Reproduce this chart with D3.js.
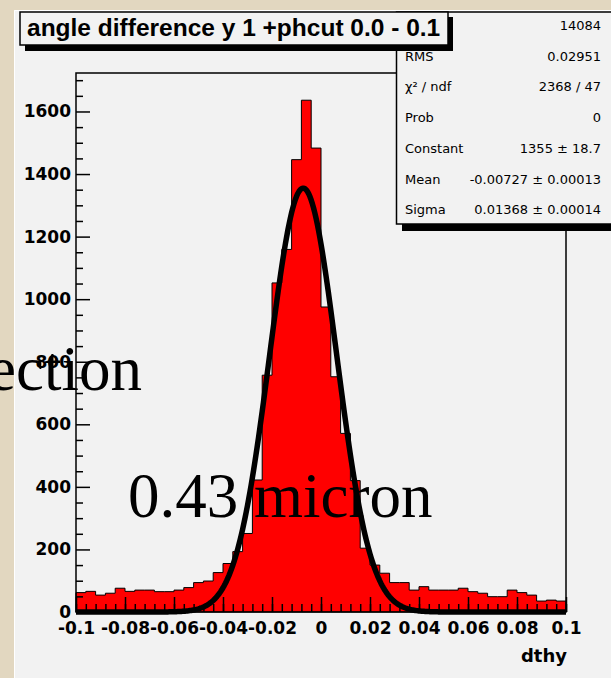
<!DOCTYPE html>
<html>
<head>
<meta charset="utf-8">
<script src="https://cdn.jsdelivr.net/npm/d3@7"></script>
<style>
body { margin: 0; background: #e2d7c0; }
svg { display: block; }
</style>
</head>
<body>
<svg id="chart"></svg>
<script>
// bin contents: 50 bins between -0.1 and 0.1
var counts = [62, 66, 54, 60, 76, 66, 70, 70, 65, 65, 70, 78, 94, 99, 126, 155, 193, 251, 422, 757,
              1052, 1159, 1446, 1636, 1483, 975, 752, 571, 420, 204, 150, 124, 94, 94, 70, 81, 70, 70, 70, 76,
              65, 60, 49, 49, 70, 62, 54, 35, 38, 35];
var xRange = [-0.1, 0.1];
var yMax = 1723;
var yTicks = [0, 200, 400, 600, 800, 1000, 1200, 1400, 1600];
var xTicks = [-0.1, -0.08, -0.06, -0.04, -0.02, 0, 0.02, 0.04, 0.06, 0.08, 0.1];
var xTickLabels = ["-0.1", "-0.08", "-0.06", "-0.04", "-0.02", "0", "0.02", "0.04", "0.06", "0.08", "0.1"];

// gaussian fit parameters (from the stats box)
var fitConstant = 1355, fitMean = -0.00727, fitSigma = 0.01368;

// first label sits under the title box in the picture, so it is left empty
var statNames = ["", "RMS", "\u03c7\u00b2 / ndf", "Prob", "Constant", "Mean", "Sigma"];
var statValues = ["14084", "0.02951", "2368 / 47", "0", "1355 \u00b1 18.7", "-0.00727 \u00b1 0.00013", "0.01368 \u00b1 0.00014"];

var titleText = "angle difference y 1 +phcut 0.0 - 0.1";
var xTitle = "dthy";

function renderChart() {
    var W = 611, H = 678;
    var svg = d3.select("#chart").attr("width", W).attr("height", H);
    var bg = "#f2f2f2";

    // page background + canvas
    svg.append("rect").attr("width", W).attr("height", H).attr("fill", "#e2d7c0");
    svg.append("rect").attr("x", 14).attr("y", 10).attr("width", W - 14).attr("height", H - 10)
       .attr("fill", bg);
    svg.append("path").attr("d", "M14.5," + H + "V10.5H" + W)
       .attr("stroke", "#ffffff").attr("fill", "none");

    var x = d3.scaleLinear().domain(xRange).range([76, 566]);
    var y = d3.scaleLinear().domain([0, yMax]).range([612, 73]);

    var nb = counts.length;
    var bw = (xRange[1] - xRange[0]) / nb;
    var steps = counts.map(function(c, i) { return {lo: xRange[0] + i * bw, v: c}; });
    steps.push({lo: xRange[1], v: counts[nb - 1]});

    var area = d3.area()
        .curve(d3.curveStepAfter)
        .x(function(d) { return x(d.lo); })
        .y0(y(0))
        .y1(function(d) { return y(d.v); });

    svg.append("path")
       .datum(steps)
       .attr("d", area)
       .attr("fill", "#ff0000")
       .attr("stroke", "#000")
       .attr("stroke-width", 1);

    // ticks (inside the frame)
    var yMinor = d3.range(0, 1701, 50).filter(function(v) { return v % 200 !== 0; });
    var xMinor = d3.range(0, 51).map(function(i) { return xRange[0] + i * bw; });

    var gyMinor = svg.append("g").attr("transform", "translate(76,0)")
        .call(d3.axisLeft(y).tickValues(yMinor).tickSize(-7).tickFormat(""));
    var gy = svg.append("g").attr("transform", "translate(76,0)")
        .call(d3.axisLeft(y).tickValues(yTicks).tickSize(-14).tickPadding(5).tickFormat(d3.format("d")));

    var gxMinor = svg.append("g").attr("transform", "translate(0,612)")
        .call(d3.axisBottom(x).tickValues(xMinor).tickSize(-8).tickFormat(""));
    var gx = svg.append("g").attr("transform", "translate(0,612)")
        .call(d3.axisBottom(x).tickValues(xTicks).tickSize(-15).tickPadding(10)
              .tickFormat(function(d, i) { return xTickLabels[i]; }));

    [gyMinor, gy, gxMinor, gx].forEach(function(g) {
        g.select(".domain").remove();
        g.selectAll("line").attr("stroke", "#000").attr("stroke-width", 1.5);
        g.selectAll("text")
         .attr("font-family", "DejaVu Sans")
         .attr("font-weight", "bold")
         .attr("font-size", 17)
         .attr("fill", "#000");
    });

    // fit function
    var fitPts = d3.range(0, 401).map(function(i) {
        var xv = xRange[0] + i * (xRange[1] - xRange[0]) / 400;
        var z = (xv - fitMean) / fitSigma;
        return [xv, fitConstant * Math.exp(-0.5 * z * z)];
    });
    svg.append("path")
       .datum(fitPts)
       .attr("d", d3.line().x(function(d) { return x(d[0]); }).y(function(d) { return y(d[1]); }))
       .attr("fill", "none")
       .attr("stroke", "#000")
       .attr("stroke-width", 5.5)
       .attr("stroke-linejoin", "round");

    // frame
    svg.append("rect")
       .attr("x", 76).attr("y", 73).attr("width", 490).attr("height", 539)
       .attr("fill", "none").attr("stroke", "#000").attr("stroke-width", 1.5);

    // x axis title
    svg.append("text")
       .attr("x", 567).attr("y", 662)
       .attr("text-anchor", "end")
       .attr("font-family", "DejaVu Sans").attr("font-weight", "bold").attr("font-size", 18)
       .text(xTitle);

    // stats box
    svg.append("rect").attr("x", 402).attr("y", 224).attr("width", 220).attr("height", 7).attr("fill", "#000");
    svg.append("rect").attr("x", 396.5).attr("y", 12).attr("width", 220).attr("height", 212)
       .attr("fill", bg).attr("stroke", "#000").attr("stroke-width", 1.5);
    statNames.forEach(function(s, i) {
        var yy = 30 + i * 30.7;
        if (s) {
            svg.append("text").attr("x", 405).attr("y", yy)
               .attr("font-family", "DejaVu Sans").attr("font-size", 13).text(s);
        }
        svg.append("text").attr("x", 601).attr("y", yy).attr("text-anchor", "end")
           .attr("font-family", "DejaVu Sans").attr("font-size", 13).text(statValues[i]);
    });

    // title box
    svg.append("rect").attr("x", 25).attr("y", 17).attr("width", 428).attr("height", 34).attr("fill", "#000");
    svg.append("rect").attr("x", 20).attr("y", 12).attr("width", 428).attr("height", 33)
       .attr("fill", bg).attr("stroke", "#000").attr("stroke-width", 1.5);
    svg.append("text").attr("x", 27).attr("y", 36)
       .attr("font-family", "Liberation Sans").attr("font-weight", "bold").attr("font-size", 24.5)
       .text(titleText);

    // overlaid slide text
    svg.append("text").attr("x", 142).attr("y", 390).attr("text-anchor", "end")
       .attr("font-family", "Liberation Serif").attr("font-size", 63)
       .text("ection");
    svg.append("text").attr("x", 128).attr("y", 517)
       .attr("font-family", "Liberation Serif").attr("font-size", 63)
       .text("0.43 micron");
}

renderChart();
</script>
</body>
</html>
